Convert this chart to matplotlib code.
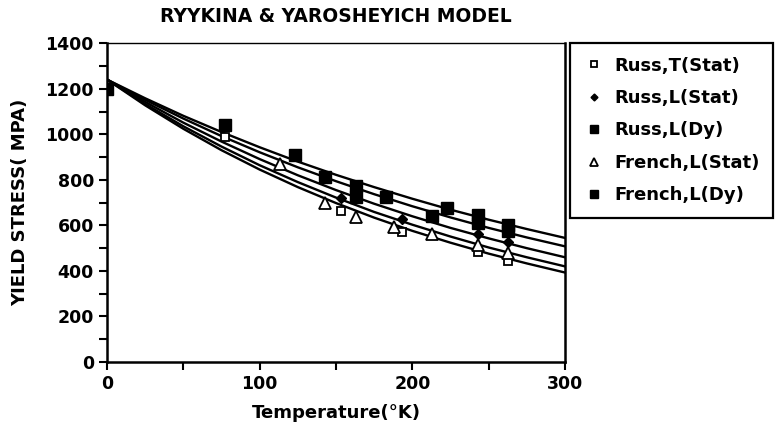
import numpy as np
import matplotlib.pyplot as plt
from matplotlib.ticker import MultipleLocator

# model curves (every 25 K)
temp_curve = [0, 25, 50, 75, 100, 125, 150, 175, 200, 225, 250, 275, 300]
curve_1 = [1240, 1158, 1081, 1010, 943, 880, 822, 768, 717, 669, 625, 584, 545]
curve_2 = [1240, 1151, 1069, 992, 921, 855, 794, 737, 684, 635, 589, 547, 508]
curve_3 = [1240, 1142, 1051, 968, 891, 820, 755, 695, 640, 589, 543, 500, 460]
curve_4 = [1240, 1133, 1035, 946, 864, 790, 722, 659, 603, 551, 503, 460, 420]
curve_5 = [1240, 1127, 1024, 930, 845, 768, 698, 634, 576, 524, 476, 433, 393]

# measured points
russ_t_stat_T = [0, 77, 153, 193, 243, 263]
russ_t_stat_s = [1200, 990, 665, 570, 485, 445]
russ_l_stat_T = [0, 153, 193, 243, 263]
russ_l_stat_s = [1200, 720, 630, 562, 525]
russ_l_dy_T = [77, 123, 143, 163, 183, 223, 243, 263]
russ_l_dy_s = [1040, 910, 812, 775, 724, 676, 645, 600]
french_l_stat_T = [0, 113, 143, 163, 188, 213, 243, 263]
french_l_stat_s = [1200, 870, 700, 635, 592, 562, 512, 480]
french_l_dy_T = [0, 163, 213, 243, 263]
french_l_dy_s = [1200, 725, 640, 612, 575]

plt.rcParams['font.family'] = 'DejaVu Sans'
plt.rcParams['font.weight'] = 'bold'

fig = plt.figure(figsize=(7.76, 4.32), dpi=100)
ax = fig.add_axes([0.138, 0.162, 0.590, 0.738])

for c in [curve_1, curve_2, curve_3, curve_4, curve_5]:
    ax.plot(temp_curve, c, color='black', lw=1.7, zorder=2)

h1, = ax.plot(russ_t_stat_T, russ_t_stat_s, ls='none', marker='s', ms=6,
              mfc='white', mec='black', mew=1.3, zorder=3)
h2, = ax.plot(russ_l_stat_T, russ_l_stat_s, ls='none', marker='D', ms=5,
              color='black', zorder=3)
h3, = ax.plot(russ_l_dy_T, russ_l_dy_s, ls='none', marker='s', ms=8,
              color='black', zorder=3)
h4, = ax.plot(french_l_stat_T, french_l_stat_s, ls='none', marker='^', ms=9,
              mfc='white', mec='black', mew=1.3, zorder=3)
h5, = ax.plot(french_l_dy_T, french_l_dy_s, ls='none', marker='s', ms=8,
              color='black', zorder=3)

ax.set_xlim(0, 300)
ax.set_ylim(0, 1400)
ax.xaxis.set_major_locator(MultipleLocator(100))
ax.xaxis.set_minor_locator(MultipleLocator(50))
ax.yaxis.set_major_locator(MultipleLocator(200))
ax.yaxis.set_minor_locator(MultipleLocator(100))
ax.tick_params(which='both', direction='out', width=1.5, length=6, labelsize=12.5)
for s in ax.spines.values():
    s.set_linewidth(1.8)
ax.spines['top'].set_linewidth(1.0)

ax.set_title('RYYKINA & YAROSHEYICH MODEL', fontsize=13.5, fontweight='bold', pad=15)
ax.set_xlabel('Temperature(°K)', fontsize=13, fontweight='bold', labelpad=8)
ax.set_ylabel('YIELD STRESS( MPA)', fontsize=13, fontweight='bold', labelpad=12)

leg = fig.legend([h1, h2, h3, h4, h5],
                 ['Russ,T(Stat)', 'Russ,L(Stat)', 'Russ,L(Dy)',
                  'French,L(Stat)', 'French,L(Dy)'],
                 loc='upper left', bbox_to_anchor=(0.7345, 0.9005),
                 borderaxespad=0, markerscale=0.7,
                 fancybox=False, edgecolor='black', framealpha=1,
                 prop={'size': 13, 'weight': 'bold'},
                 handletextpad=0.5, labelspacing=0.8, borderpad=0.75,
                 handlelength=1.2)
leg.get_frame().set_linewidth(1.6)

fig.savefig('out.png', dpi=100)
